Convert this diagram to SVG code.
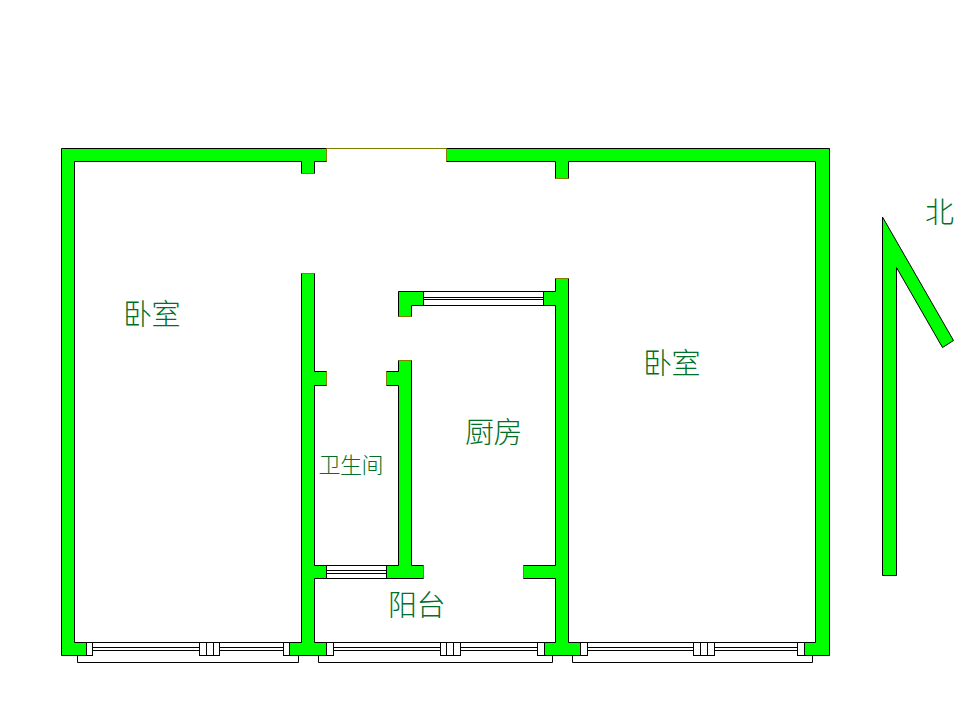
<svg xmlns="http://www.w3.org/2000/svg" width="971" height="723" viewBox="0 0 971 723">
<style>
.wall{fill:#00ff00;stroke:#000;stroke-width:1;stroke-miterlimit:10}
.end{fill:none;stroke:#808000;stroke-width:1}
.win{fill:#fff;stroke:#000;stroke-width:1}
.ln{fill:none;stroke:#000;stroke-width:1}
text{font-family:"Noto Sans CJK SC","Liberation Sans",sans-serif;fill:#007028;font-size:29px;font-weight:300;letter-spacing:-0.5px}
.sm{font-size:22px;letter-spacing:-0.5px}
</style>
<rect width="971" height="723" fill="#fff"/>
<g id="windows">
<path class="ln" d="M77.5 655.5V662.5H298.5V655.5M318.5 655.5V662.5H552.5V655.5M572.5 655.5V662.5H812.5V655.5"/>
<path class="ln" d="M92.5 642.5H283.5M92.5 647.5H199.5M92.5 650.5H199.5M219.5 647.5H283.5M219.5 650.5H283.5"/>
<rect class="win" x="86.5" y="642.5" width="6" height="13"/><rect class="win" x="199.5" y="642.5" width="7" height="13"/><rect class="win" x="206.5" y="642.5" width="7" height="13"/><rect class="win" x="213.5" y="642.5" width="6" height="13"/><rect class="win" x="283.5" y="642.5" width="6" height="13"/>
<path class="ln" d="M333.5 642.5H537.5M333.5 647.5H440.5M333.5 650.5H440.5M460.5 647.5H537.5M460.5 650.5H537.5"/>
<rect class="win" x="326.5" y="642.5" width="7" height="13"/><rect class="win" x="440.5" y="642.5" width="6" height="13"/><rect class="win" x="446.5" y="642.5" width="7" height="13"/><rect class="win" x="453.5" y="642.5" width="7" height="13"/><rect class="win" x="537.5" y="642.5" width="7" height="13"/>
<path class="ln" d="M587.5 642.5H797.5M587.5 647.5H693.5M587.5 650.5H693.5M714.5 647.5H797.5M714.5 650.5H797.5"/>
<rect class="win" x="580.5" y="642.5" width="7" height="13"/><rect class="win" x="693.5" y="642.5" width="7" height="13"/><rect class="win" x="700.5" y="642.5" width="7" height="13"/><rect class="win" x="707.5" y="642.5" width="7" height="13"/><rect class="win" x="797.5" y="642.5" width="7" height="13"/>
<rect class="win" x="423.5" y="291.5" width="120" height="14"/><path class="ln" d="M423.5 297.5H543.5M423.5 299.5H543.5"/>
<rect class="win" x="326.5" y="565.5" width="60" height="13"/><path class="ln" d="M326.5 570.5H386.5M326.5 573.5H386.5"/>
</g>
<g id="walls">
<path class="wall" d="M61.5 148.5H326.5V161.5H314.5V173.5H301.5V161.5H74.5V642.5H86.5V655.5H61.5Z"/>
<path class="wall" d="M301.5 273.5H314.5V371.5H326.5V385.5H314.5V565.5H326.5V578.5H314.5V642.5H326.5V655.5H289.5V642.5H301.5Z"/>
<path class="wall" d="M555.5 278.5H568.5V642.5H580.5V655.5H544.5V642.5H555.5V578.5H523.5V565.5H555.5V305.5H543.5V291.5H555.5Z"/>
<path class="wall" d="M446.5 148.5H829.5V655.5H804.5V642.5H815.5V161.5H568.5V178.5H555.5V161.5H446.5Z"/>
<path class="wall" d="M398.5 291.5H423.5V305.5H411.5V316.5H398.5Z"/>
<path class="wall" d="M398.5 360.5H411.5V565.5H423.5V578.5H386.5V565.5H398.5V385.5H386.5V371.5H398.5Z"/>
<path class="end" d="M326.5 148.5V161.5M301.5 173.5H314.5M326.5 148.5H446.5M446.5 148.5V161.5M555.5 178.5H568.5M301.5 273.5H314.5M555.5 278.5H568.5M398.5 316.5H411.5M398.5 360.5H411.5M386.5 371.5V385.5M326.5 371.5V385.5M423.5 565.5V578.5M523.5 565.5V578.5"/>
</g>
<g id="north-arrow">
<path class="wall" d="M882.5 217L953.5 340.5L942.5 347.5L896.5 267.5V575.5H882.5Z"/>
<text x="925" y="223">北</text>
</g>
<g id="labels">
<text x="123" y="325">卧室</text>
<text x="643" y="374">卧室</text>
<text x="465" y="443">厨房</text>
<text class="sm" x="318.500" y="473">卫生间</text>
<text x="388" y="616">阳台</text>
</g>
</svg>
